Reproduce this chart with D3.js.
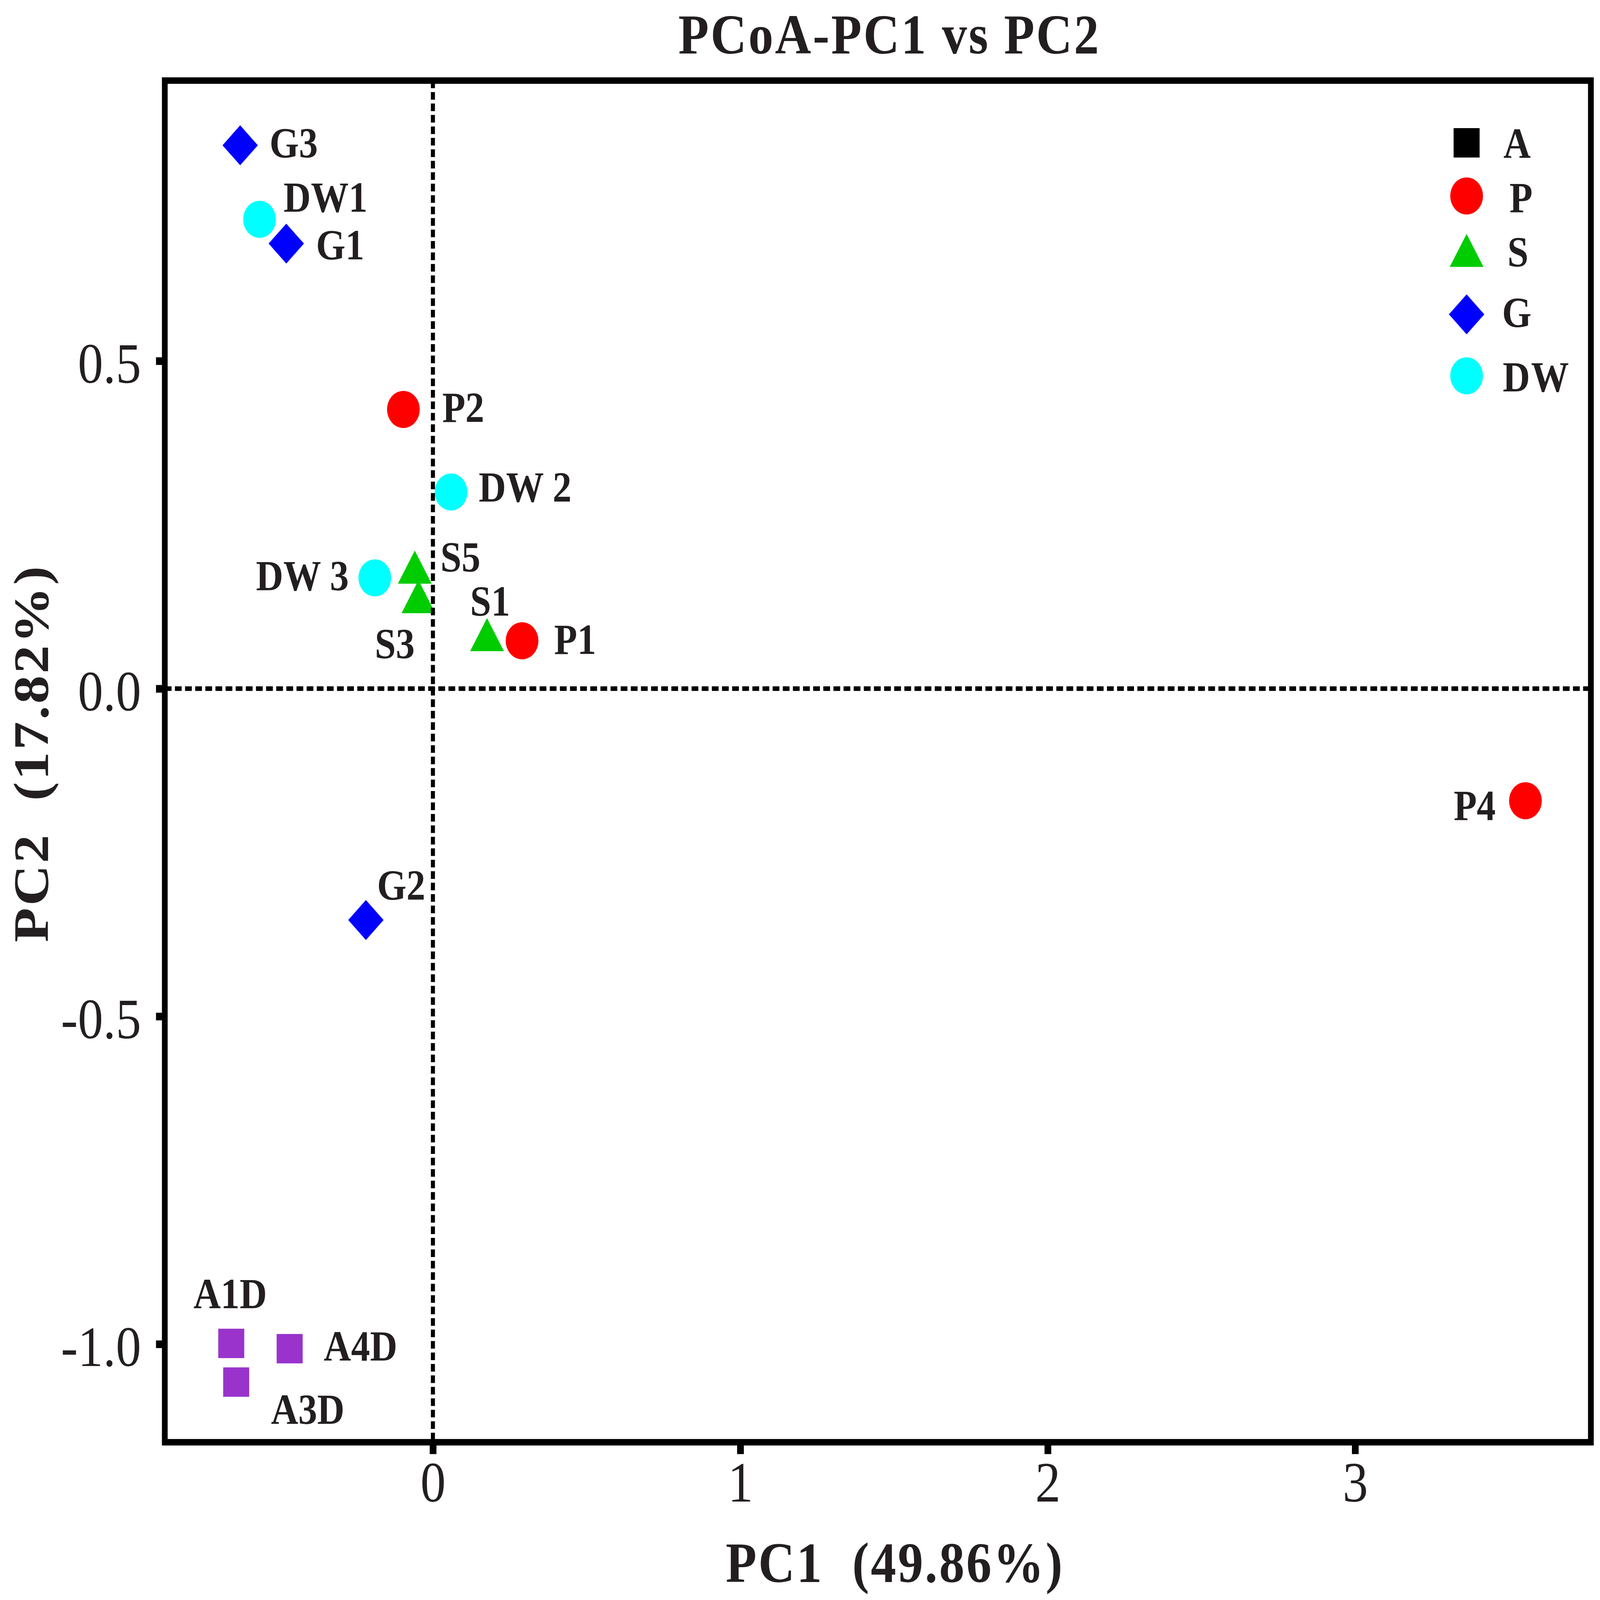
<!DOCTYPE html>
<html>
<head>
<meta charset="utf-8">
<script src="https://cdn.jsdelivr.net/npm/d3@7"></script>
<style>
    html, body { margin: 0; padding: 0; background: #ffffff; overflow: hidden; }
    #vis svg { display: block; width: 100vw; height: 100vh; }
    text { font-family: "Liberation Serif", "Times New Roman", serif; fill: #231F20; }
</style>
</head>
<body>
<div id="vis"></div>
<script>
/* DATA */
var samples = ["A1D", "A3D", "A4D", "P1", "P2", "P4", "S1", "S3", "S5", "DW1", "DW 2", "DW 3", "G1", "G2", "G3"];
var sampleGroup = ["A", "A", "A", "P", "P", "P", "S", "S", "S", "DW", "DW", "DW", "G", "G", "G"];
var pc1 = [-0.656, -0.640, -0.466, 0.290, -0.096, 3.554, 0.176, -0.047, -0.059, -0.564, 0.059, -0.189, -0.477, -0.218, -0.627];
var pc2 = [-0.999, -1.058, -1.007, 0.073, 0.426, -0.171, 0.074, 0.132, 0.177, 0.716, 0.300, 0.169, 0.679, -0.353, 0.829];

var groups = ["A", "P", "S", "G", "DW"];
var groupColors = ["#9933CC", "#FF0000", "#00CC00", "#0000FF", "#00FFFF"];
var legendColors = ["#000000", "#FF0000", "#00CC00", "#0000FF", "#00FFFF"];

var xTicks = [0, 1, 2, 3];
var yTicks = [-1.0, -0.5, 0.0, 0.5];
var xDomain = [-0.8722, 3.7669];
var yDomain = [-1.1498, 0.9277];

var chartTitle = "PCoA-PC1 vs PC2";
var xTitle = "PC1  (49.86%)";
var yTitle = "PC2  (17.82%)";

/* LAYOUT: label placement (pixels from the marker centre) and legend rows */
var labelPlace = {
    "A1D": [-112, -92, "start"], "A3D": [103, 109, "start"], "A4D": [101, 31, "start"],
    "P1": [95, 34, "start"], "P2": [115, 33, "start"], "P4": [-88, 50, "end"],
    "S1": [-50, -64, "start"], "S3": [-11, 147, "end"], "S5": [76, -3, "start"],
    "DW1": [71, -20, "start"], "DW 2": [82, 25, "start"], "DW 3": [-77, 32, "end"],
    "G1": [88, 41, "start"], "G2": [33, -53, "start"], "G3": [87, 32, "start"]
};
var legendSymbolY = [374, 513, 670, 823, 984];
var legendTextY = [413, 555, 697, 856, 1025];
var legendTextX = [4452, 4470, 4464, 4448, 4450];

function createScatter() {
    var w = 4738;
    var h = 4189;
    var left = 488, right = 4711, top = 211, bottom = 3776;

    var data = samples.map(function (s, i) {
        return { name: s, group: sampleGroup[i], x: pc1[i], y: pc2[i] };
    });

    /* SCALES */
    var xScale = d3.scaleLinear().domain(xDomain).range([left, right]);
    var yScale = d3.scaleLinear().domain(yDomain).range([bottom, top]);
    var color = d3.scaleOrdinal().domain(groups).range(groupColors);

    function symbolFor(g) {
        if (g === "A") return d3.symbol().type(d3.symbolSquare).size(5929)();
        if (g === "P" || g === "DW") return d3.symbol().type(d3.symbolCircle).size(7390)();
        if (g === "S") return d3.symbol().type(d3.symbolTriangle).size(4330)();
        return d3.symbol().type(d3.symbolSquare).size(5476)();
    }
    function rot(g) { return g === "G" ? " rotate(45)" : ""; }

    /* START SVG (viewBox stretched over the whole window) */
    var svg = d3.select("#vis").append("svg")
        .attr("viewBox", "0 0 " + w + " " + h)
        .attr("preserveAspectRatio", "none");

    svg.append("rect").attr("width", w).attr("height", h).attr("fill", "#ffffff");

    /* MARKERS (draw order: A, P, S, DW, G) */
    var order = ["A", "P", "S", "DW", "G"];
    var sorted = data.slice().sort(function (a, b) {
        return order.indexOf(a.group) - order.indexOf(b.group);
    });

    svg.append("g").selectAll("path")
        .data(sorted)
        .enter()
        .append("path")
        .attr("d", d => symbolFor(d.group))
        .attr("transform", d => "translate(" + xScale(d.x) + "," + yScale(d.y) + ")" + rot(d.group))
        .attr("fill", d => color(d.group));

    /* ZERO LINES */
    svg.append("line")
        .attr("x1", xScale(0)).attr("x2", xScale(0))
        .attr("y1", top).attr("y2", bottom)
        .attr("stroke", "#000").attr("stroke-width", 12)
        .attr("stroke-dasharray", "20,10");

    svg.append("line")
        .attr("x1", left).attr("x2", right)
        .attr("y1", yScale(0)).attr("y2", yScale(0))
        .attr("stroke", "#000").attr("stroke-width", 12)
        .attr("stroke-dasharray", "20,10");

    /* POINT LABELS */
    svg.append("g").selectAll("text")
        .data(data)
        .enter()
        .append("text")
        .attr("x", d => xScale(d.x) + labelPlace[d.name][0])
        .attr("y", d => yScale(d.y) + labelPlace[d.name][1])
        .attr("text-anchor", d => labelPlace[d.name][2])
        .style("font-size", "112px")
        .style("font-weight", "bold")
        .style("white-space", "pre")
        .text(d => d.name);

    /* AXES */
    var xAxis = d3.axisBottom(xScale)
        .tickValues(xTicks)
        .tickFormat(d3.format("d"))
        .tickSize(31)
        .tickSizeOuter(0)
        .tickPadding(18);

    var yAxis = d3.axisLeft(yScale)
        .tickValues(yTicks)
        .tickFormat(d => d.toFixed(1))
        .tickSize(26)
        .tickSizeOuter(0)
        .tickPadding(44);

    var gx = svg.append("g")
        .attr("transform", "translate(0," + bottom + ")")
        .call(xAxis);
    var gy = svg.append("g")
        .attr("transform", "translate(" + left + ",0)")
        .call(yAxis);

    [gx, gy].forEach(function (g) {
        g.select(".domain").remove();
        g.selectAll(".tick line").attr("stroke", "#000").attr("stroke-width", 20);
        g.selectAll(".tick text")
            .attr("fill", "#231F20")
            .style("font-family", "'Liberation Serif', 'Times New Roman', serif")
            .style("font-size", "150px");
    });
    gy.selectAll(".tick text").attr("dy", "0.38em");

    /* FRAME */
    svg.append("rect")
        .attr("x", left).attr("y", top)
        .attr("width", right - left).attr("height", bottom - top)
        .attr("fill", "none")
        .attr("stroke", "#000")
        .attr("stroke-width", 17);

    /* LEGEND */
    var legend = svg.append("g").selectAll("g")
        .data(groups)
        .enter()
        .append("g");

    legend.append("path")
        .attr("d", d => symbolFor(d))
        .attr("transform", (d, i) => "translate(4343," + legendSymbolY[i] + ")" + rot(d))
        .attr("fill", (d, i) => legendColors[i]);

    legend.append("text")
        .attr("x", (d, i) => legendTextX[i])
        .attr("y", (d, i) => legendTextY[i])
        .style("font-size", "112px")
        .style("font-weight", "bold")
        .style("letter-spacing", "3px")
        .text(d => d);

    /* TEXT TITLES */
    svg.append("text")
        .attr("x", 2634)
        .attr("y", 140)
        .attr("text-anchor", "middle")
        .style("font-size", "148px")
        .style("font-weight", "bold")
        .style("letter-spacing", "5px")
        .text(chartTitle);

    svg.append("text")
        .attr("x", 2650)
        .attr("y", 4142)
        .attr("text-anchor", "middle")
        .style("font-size", "150px")
        .style("font-weight", "bold")
        .style("letter-spacing", "5px")
        .style("white-space", "pre")
        .text(xTitle);

    svg.append("text")
        .attr("transform", "translate(142,1972) rotate(-90)")
        .attr("text-anchor", "middle")
        .style("font-size", "148px")
        .style("font-weight", "bold")
        .style("letter-spacing", "5px")
        .style("white-space", "pre")
        .text(yTitle);
}

function main() {
    createScatter();
}

main()
</script>
</body>
</html>
